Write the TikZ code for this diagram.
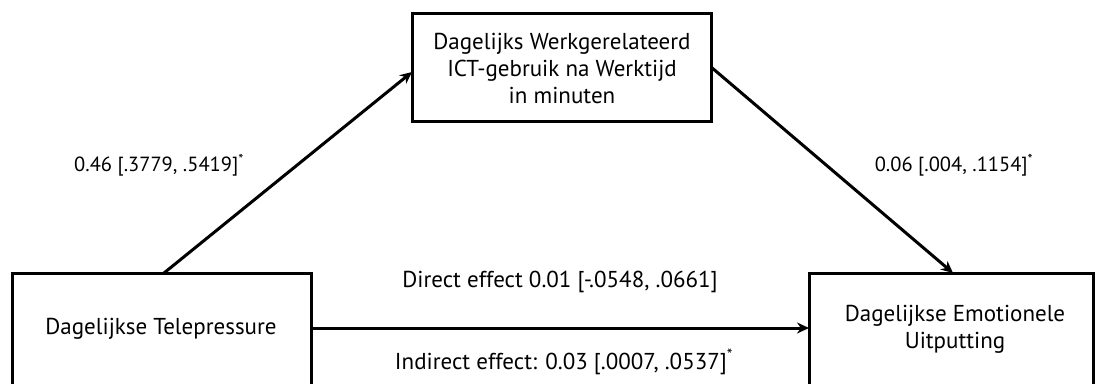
\documentclass[tikz,border=0pt]{standalone}
\usepackage{fontspec}
\setmainfont{PT Sans}
\usetikzlibrary{arrows.meta}
\begin{document}
\begin{tikzpicture}[x=1pt,y=1pt,
  varbox/.style={draw=black, line width=3pt, fill=white},
  lbl/.style={font=\fontsize{23}{27}\selectfont, align=center, inner sep=0pt},
  numlbl/.style={font=\fontsize{20.5}{25}\selectfont, align=center, inner sep=0pt},
  conn/.style={line width=3pt, -{Stealth[length=12pt,width=11pt]}}]
\useasboundingbox (0,0) rectangle (1095,-383);
\path[fill=white] (0,0) rectangle (1095,-383);
% boxes
\draw[varbox] (412,-13) rectangle (711,-121);
\node[lbl] (m) at (562,-68) {Dagelijks Werkgerelateerd\\ICT-gebruik na Werktijd\\in minuten};
\coordinate (mL) at (412,-72);
\coordinate (mR) at (711,-67);
\draw[varbox] (12,-273) rectangle (311,-390);
\node[lbl] (x) at (161,-329) {Dagelijkse Telepressure};
\coordinate (xT) at (164,-273);
\coordinate (xR) at (311,-328);
\draw[varbox] (809,-273) rectangle (1093,-390);
\node[lbl] (y) at (955,-329) {Dagelijkse Emotionele\\Uitputting};
\coordinate (yT) at (953,-273);
\coordinate (yL) at (809,-328);
% connectors
\draw[conn] (xT) -- (mL);
\draw[conn] (mR) -- (yT);
\draw[conn] (xR) -- (yL);
% labels
\node[numlbl] (a) at (159,-165) {0.46 [.3779, .5419]\textsuperscript{*}};
\node[numlbl] (b) at (954,-165) {0.06 [.004, .1154]\textsuperscript{*}};
\node[lbl] (c) at (560,-282) {Direct effect 0.01 [-.0548, .0661]};
\node[lbl] (d) at (564,-362) {Indirect effect: 0.03 [.0007, .0537]\textsuperscript{*}};
\end{tikzpicture}
\end{document}
